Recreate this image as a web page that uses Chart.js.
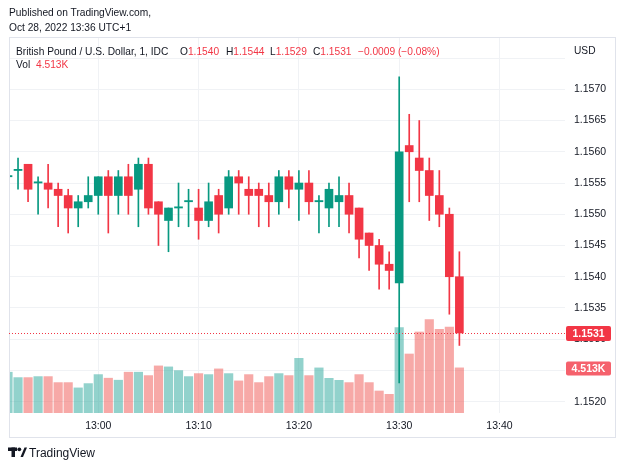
<!DOCTYPE html>
<html><head><meta charset="utf-8">
<script src="https://cdn.jsdelivr.net/npm/chart.js@4"></script>
<style>
html,body{margin:0;padding:0;background:#fff;}
#wrap{position:relative;width:625px;height:469px;overflow:hidden;font-family:"Liberation Sans",Arial,sans-serif;color:#131722;}
canvas{position:absolute;left:0;top:0;}
.t{position:absolute;white-space:nowrap;font-size:10.2px;line-height:12px;}
.r{color:#F23645;}
</style></head><body>
<div id="wrap">
<canvas id="c" width="625" height="469"></canvas>
<div class="t" style="left:9px;top:7px;">Published on TradingView.com,</div>
<div class="t" style="left:9px;top:22px;">Oct 28, 2022 13:36 UTC+1</div>
<div class="t" style="left:16px;top:46px;">British Pound / U.S. Dollar, 1, IDC</div>
<div class="t" style="left:180px;top:46px;">O<span class="r">1.1540</span></div>
<div class="t" style="left:226px;top:46px;">H<span class="r">1.1544</span></div>
<div class="t" style="left:270px;top:46px;">L<span class="r">1.1529</span></div>
<div class="t" style="left:313px;top:46px;">C<span class="r">1.1531</span></div>
<div class="t r" style="left:358px;top:46px;">−0.0009 (−0.08%)</div>
<div class="t" style="left:16px;top:59px;">Vol</div>
<div class="t r" style="left:36px;top:59px;">4.513K</div>
<div class="t" style="left:574px;top:45px;">USD</div>
<svg style="position:absolute;left:0;top:0" width="40" height="469">
  <rect x="8" y="447.5" width="9" height="3.5" fill="#131722"/>
  <rect x="11.5" y="447.5" width="3.5" height="9.5" fill="#131722"/>
  <circle cx="19.3" cy="449.3" r="1.9" fill="#131722"/>
  <polygon points="20.5,457 23,457 27,447.5 24.5,447.5" fill="#131722"/>
</svg>
<div class="t" style="left:29px;top:446px;font-size:12px;line-height:14px;">TradingView</div>
</div>
<script>
// ---- data (1-minute candles, GBP/USD) ----
const times = ['12:51','12:52','12:53','12:54','12:55','12:56','12:57','12:58','12:59',
  '13:00','13:01','13:02','13:03','13:04','13:05','13:06','13:07','13:08','13:09',
  '13:10','13:11','13:12','13:13','13:14','13:15','13:16','13:17','13:18','13:19',
  '13:20','13:21','13:22','13:23','13:24','13:25','13:26','13:27','13:28','13:29',
  '13:30','13:31','13:32','13:33','13:34','13:35','13:36'];
const openP  = [1.1556,1.1557,1.1558,1.1555,1.1555,1.1554,1.1553,1.1551,1.1552,
  1.1553,1.1556,1.1553,1.1556,1.1554,1.1558,1.1552,1.1549,1.1551,1.1552,
  1.1551,1.1549,1.1553,1.1551,1.1556,1.1554,1.1554,1.1553,1.1552,1.1556,
  1.1554,1.1555,1.1552,1.1551,1.1552,1.1553,1.1551,1.1547,1.1545,1.1542,
  1.1539,1.1561,1.1559,1.1557,1.1553,1.1550,1.1540];
const highP  = [1.1557,1.1559,1.1558,1.1556,1.1558,1.1555,1.1554,1.1553,1.1556,
  1.1556,1.1557,1.1557,1.1558,1.1559,1.1559,1.1552,1.1551,1.1555,1.1554,
  1.1554,1.1555,1.1554,1.1557,1.1557,1.1556,1.1555,1.1555,1.1557,1.1557,
  1.1557,1.1557,1.1553,1.1555,1.1556,1.1555,1.1551,1.1547,1.1546,1.1544,
  1.1572,1.1566,1.1565,1.1559,1.1557,1.1551,1.1544];
const lowP   = [1.1555,1.1554,1.1552,1.1550,1.1551,1.1548,1.1547,1.1548,1.1551,
  1.1550,1.1547,1.1550,1.1550,1.1548,1.1550,1.1545,1.1544,1.1548,1.1548,
  1.1546,1.1548,1.1547,1.1550,1.1550,1.1550,1.1548,1.1548,1.1550,1.1551,
  1.1549,1.1550,1.1547,1.1548,1.1548,1.1547,1.1543,1.1541,1.1538,1.1538,
  1.1523,1.1552,1.1552,1.1549,1.1548,1.1534,1.1529];
const closeP = [1.1556,1.1557,1.1554,1.1555,1.1554,1.1553,1.1551,1.1552,1.1553,
  1.1556,1.1553,1.1556,1.1553,1.1558,1.1551,1.1550,1.1551,1.1551,1.1552,
  1.1549,1.1552,1.1550,1.1556,1.1555,1.1553,1.1553,1.1552,1.1556,1.1554,
  1.1555,1.1552,1.1552,1.1554,1.1553,1.1550,1.1546,1.1545,1.1542,1.1541,
  1.1560,1.1560,1.1557,1.1553,1.1550,1.1540,1.1531];
const volume = [4080,3540,3540,3640,3640,3040,3040,2510,2940,
  3840,3480,3280,4080,4080,3740,4710,4610,4240,3640,
  3940,3840,4410,3940,3210,3840,3040,3640,3940,3740,
  5470,3740,4510,3470,3270,3040,3840,3040,2200,1870,
  8530,5900,8100,9330,8370,8600,4513];
const timeTicks = [0,10,20,30,40];           // minutes after 13:00
const priceTicks = [1.1520,1.1525,1.1530,1.1535,1.1540,1.1545,1.1550,1.1555,1.1560,1.1565,1.1570,1.1575];

// ---- styling ----
const UP = '#089981', DOWN = '#F23645';
const UP_V = 'rgba(38,166,154,0.5)', DOWN_V = 'rgba(239,83,80,0.5)';
const FONT = '"Liberation Sans", Arial, sans-serif';
const GRID = '#f0f2f5';

const xs = times.map(t => { const [h,m] = t.split(':').map(Number); return h*60+m-780; });
const isUp = closeP.map((c,i) => c >= openP[i]);
const wickData = xs.map((x,i) => ({x, y:[lowP[i], highP[i]]}));
const bodyData = xs.map((x,i) => ({x, y:[openP[i], closeP[i]]}));
const volData  = xs.map((x,i) => ({x, y:volume[i]}));
const lastClose = closeP[closeP.length-1], lastVol = volume[volume.length-1];

function roundRect(ctx,x,y,w,h,r){ctx.beginPath();ctx.moveTo(x+r,y);ctx.lineTo(x+w-r,y);ctx.quadraticCurveTo(x+w,y,x+w,y+r);ctx.lineTo(x+w,y+h-r);ctx.quadraticCurveTo(x+w,y+h,x+w-r,y+h);ctx.lineTo(x+r,y+h);ctx.quadraticCurveTo(x,y+h,x,y+h-r);ctx.lineTo(x,y+r);ctx.quadraticCurveTo(x,y,x+r,y);ctx.closePath();}

const overlay = {
  id:'overlay',
  afterDraw(chart){
    const ctx = chart.ctx, a = chart.chartArea, ys = chart.scales.y, vs = chart.scales.v;
    ctx.save();
    ctx.strokeStyle = '#e0e3eb'; ctx.lineWidth = 1;
    ctx.strokeRect(9.5, 37.5, 606, 400);
    const py = Math.round(ys.getPixelForValue(lastClose)) + 0.5;
    ctx.setLineDash([1,2]); ctx.strokeStyle = DOWN;
    ctx.beginPath(); ctx.moveTo(a.left, py); ctx.lineTo(a.right, py); ctx.stroke();
    ctx.setLineDash([]);
    ctx.font = 'bold 10.5px ' + FONT; ctx.textAlign = 'center'; ctx.textBaseline = 'middle';
    ctx.fillStyle = DOWN; roundRect(ctx, a.right+1, py-7.5, 45, 15, 2); ctx.fill();
    ctx.fillStyle = '#fff'; ctx.fillText(lastClose.toFixed(4), a.right+23.5, py+0.5);
    const vy = Math.round(vs.getPixelForValue(lastVol)) + 0.5;
    ctx.fillStyle = '#f5616c'; roundRect(ctx, a.right+1, vy-7, 45, 14, 2); ctx.fill();
    ctx.fillStyle = '#fff'; ctx.fillText((lastVol/1000).toFixed(3)+'K', a.right+23.5, vy+0.5);
    ctx.restore();
  }
};

new Chart(document.getElementById('c'), {
  type:'bar',
  data:{ datasets:[
    { data: bodyData, xAxisID:'x', yAxisID:'y', order:1, grouped:false, clip:0,
      backgroundColor: isUp.map(u => u?UP:DOWN), borderWidth:0, barThickness:8, minBarLength:1.2 },
    { data: wickData, xAxisID:'x', yAxisID:'y', order:2, grouped:false, clip:0,
      backgroundColor: isUp.map(u => u?UP:DOWN), borderWidth:0, barThickness:1 },
    { data: volData, xAxisID:'x', yAxisID:'v', order:3, grouped:false, clip:0,
      backgroundColor: isUp.map(u => u?UP_V:DOWN_V), borderWidth:0, barThickness:8.5 }
  ]},
  options:{
    responsive:false, devicePixelRatio:1, animation:false,
    layout:{ padding:{ left:9, right:9, top:38, bottom:31 } },
    plugins:{ legend:{display:false}, tooltip:{enabled:false} },
    scales:{
      x:{ type:'linear', min:-8.9, max:46.53, offset:false,
        afterFit(s){ s.height = 25; },
        border:{display:false},
        grid:{ color:GRID, drawTicks:false, offset:false },
        afterBuildTicks(s){ s.ticks = timeTicks.map(v => ({value:v})); },
        ticks:{ padding:7, color:'#131722', font:{family:FONT, size:10.5}, maxRotation:0,
          callback(v){ const m = 780 + v; return Math.floor(m/60) + ':' + String(m%60).padStart(2,'0'); } } },
      y:{ type:'linear', position:'right', min:1.151819, max:1.157821,
        afterFit(s){ s.width = 51; },
        border:{display:false},
        grid:{ color:GRID, drawTicks:false, offset:false },
        afterBuildTicks(s){ s.ticks = priceTicks.map(v => ({value:v})); },
        ticks:{ padding:9, color:'#131722', font:{family:FONT, size:10.5},
          callback(v){ return v > 1.1572 ? '' : v.toFixed(4); } } },
      v:{ type:'linear', display:false, min:0, max:37500 }
    }
  },
  plugins:[overlay]
});
</script>
</body></html>
